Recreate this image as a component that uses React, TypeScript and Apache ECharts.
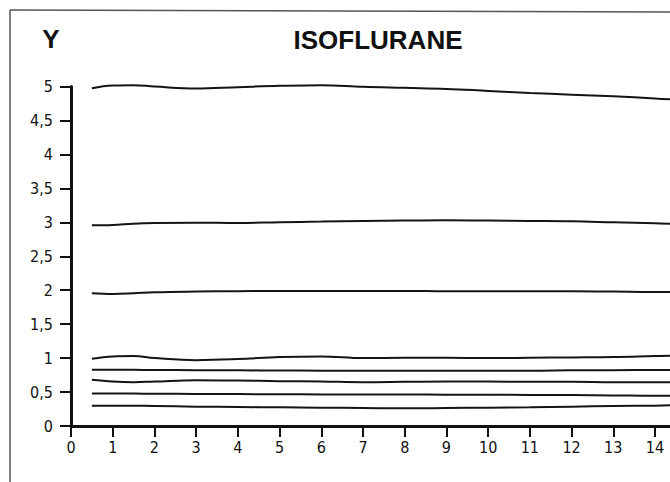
import React, { useEffect, useRef } from "react";
import * as echarts from "echarts";

const xs = [0.5, 1, 1.5, 2, 3, 4, 5, 6, 7, 8, 9, 10, 11, 12, 13, 14, 14.4];
const line5 = [4.975, 5.015, 5.02, 5.0, 4.97, 4.99, 5.01, 5.02, 4.995, 4.98, 4.965, 4.935, 4.905, 4.88, 4.855, 4.825, 4.81];
const line3 = [2.955, 2.96, 2.98, 2.99, 2.995, 2.99, 3.0, 3.01, 3.02, 3.025, 3.03, 3.025, 3.02, 3.015, 3.0, 2.985, 2.98];
const line2 = [1.955, 1.945, 1.955, 1.97, 1.98, 1.985, 1.99, 1.99, 1.99, 1.99, 1.985, 1.985, 1.985, 1.985, 1.98, 1.975, 1.975];
const line1 = [0.99, 1.025, 1.03, 1.0, 0.97, 0.985, 1.015, 1.025, 1.0, 1.005, 1.005, 1.0, 1.005, 1.01, 1.015, 1.03, 1.035];
const line08 = [0.83, 0.83, 0.828, 0.825, 0.822, 0.82, 0.818, 0.815, 0.815, 0.815, 0.815, 0.815, 0.815, 0.82, 0.822, 0.825, 0.825];
const line065 = [0.68, 0.655, 0.645, 0.655, 0.675, 0.67, 0.66, 0.655, 0.645, 0.65, 0.655, 0.655, 0.65, 0.65, 0.645, 0.645, 0.645];
const line05 = [0.48, 0.478, 0.477, 0.475, 0.473, 0.47, 0.468, 0.465, 0.465, 0.465, 0.462, 0.46, 0.458, 0.455, 0.45, 0.445, 0.445];
const line03 = [0.3, 0.3, 0.298, 0.295, 0.285, 0.28, 0.275, 0.27, 0.265, 0.26, 0.265, 0.27, 0.275, 0.285, 0.295, 0.3, 0.305];

const allLines = [line5, line3, line2, line1, line08, line065, line05, line03];
const title = "ISOFLURANE";
const yName = "Y";

const FONT = "'Liberation Sans Narrow', 'DejaVu Sans Condensed', 'Liberation Sans', sans-serif";

export default function App() {
  const ref = useRef<HTMLDivElement>(null);
  useEffect(() => {
    if (!ref.current) return;
    const chart = echarts.init(ref.current, null, { renderer: "svg" });
    chart.setOption({
      animation: false,
      backgroundColor: "#ffffff",
      grid: { left: 71, top: 86.5, right: 0, bottom: 56, containLabel: false },
      xAxis: {
        type: "value",
        min: 0,
        max: 14.36,
        interval: 1,
        axisLine: { show: true, onZero: false, lineStyle: { color: "#111", width: 3 } },
        axisTick: { show: true, length: 11, inside: false, lineStyle: { color: "#111", width: 2 } },
        axisLabel: { color: "#111", fontSize: 16, fontWeight: 500, fontFamily: FONT, margin: 13, showMaxLabel: false },
        splitLine: { show: false },
      },
      yAxis: {
        type: "value",
        min: 0,
        max: 5,
        interval: 0.5,
        axisLine: { show: true, lineStyle: { color: "#111", width: 3 } },
        axisTick: { show: true, length: 11, inside: false, lineStyle: { color: "#111", width: 2 } },
        axisLabel: {
          color: "#111",
          fontSize: 16,
          fontWeight: 500,
          fontFamily: FONT,
          margin: 18,
          formatter: (v: number) => String(v).replace(".", ","),
        },
        splitLine: { show: false },
      },
      series: allLines.map((vals, i) => ({
        type: "line",
        name: "s" + i,
        data: xs.map((x, j) => [x, vals[j]]),
        smooth: 0.4,
        showSymbol: false,
        symbol: "none",
        lineStyle: { color: "#141414", width: 2 },
        clip: false,
      })),
      graphic: [
        { type: "line", shape: { x1: 10, y1: 10, x2: 670, y2: 12 }, style: { stroke: "#555", lineWidth: 1.5 } },
        { type: "line", shape: { x1: 10, y1: 10, x2: 10, y2: 482 }, style: { stroke: "#555", lineWidth: 1.5 } },
        {
          type: "text",
          x: 378,
          y: 40,
          style: { text: title, font: "bold 26px 'Liberation Sans', Arial, sans-serif", fill: "#111", textAlign: "center", textVerticalAlign: "middle" },
        },
        {
          type: "text",
          x: 51,
          y: 39,
          style: { text: yName, font: "bold 26px 'Liberation Sans', Arial, sans-serif", fill: "#111", textAlign: "center", textVerticalAlign: "middle" },
        },
      ],
    });
    return () => chart.dispose();
  }, []);
  return <div ref={ref} style={{ position: "fixed", left: 0, top: 0, width: 670, height: 482 }} />;
}
